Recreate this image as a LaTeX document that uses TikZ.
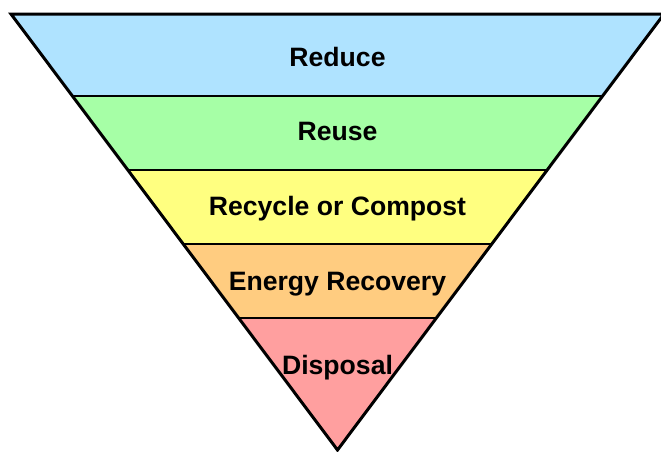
\documentclass[tikz,border=0pt]{standalone}
\usepackage{fontspec}
\setmainfont{Liberation Sans}
\definecolor{cReduce}{HTML}{AFE3FF}
\definecolor{cReuse}{HTML}{A6FFA6}
\definecolor{cRecycle}{HTML}{FFFF80}
\definecolor{cEnergy}{HTML}{FFCC80}
\definecolor{cDisposal}{HTML}{FF9F9F}
\begin{document}
\begin{tikzpicture}[x=1pt,y=-1pt,
  lbl/.style={font=\fontsize{26.6}{30}\selectfont\bfseries, text=black, anchor=base, inner sep=0pt},
  bandline/.style={line width=2pt, black}]
\useasboundingbox (0,0) rectangle (661,451);
\coordinate (TL) at (11,14);
\coordinate (TR) at (664,14);
\coordinate (AP) at (337.5,450);
\begin{scope}
  \clip (TL) -- (TR) -- (AP) -- cycle;
  \fill[cReduce] (0,0) rectangle (680,96);
  \fill[cReuse] (0,96) rectangle (680,170);
  \fill[cRecycle] (0,170) rectangle (680,244);
  \fill[cEnergy] (0,244) rectangle (680,318);
  \fill[cDisposal] (0,318) rectangle (680,460);
  \draw[bandline] (0,96) -- (680,96);
  \draw[bandline] (0,170) -- (680,170);
  \draw[bandline] (0,244) -- (680,244);
  \draw[bandline] (0,318) -- (680,318);
\end{scope}
\draw[line width=3pt, line join=miter] (TL) -- (TR) -- (AP) -- cycle;
\node[lbl] (reduce) at (337.5,66) {Reduce};
\node[lbl] (reuse) at (337.5,140) {Reuse};
\node[lbl] (recycle) at (337.5,215) {Recycle or Compost};
\node[lbl] (energy) at (337.5,290) {Energy Recovery};
\node[lbl] (disposal) at (337.5,374) {Disposal};
\end{tikzpicture}
\end{document}
